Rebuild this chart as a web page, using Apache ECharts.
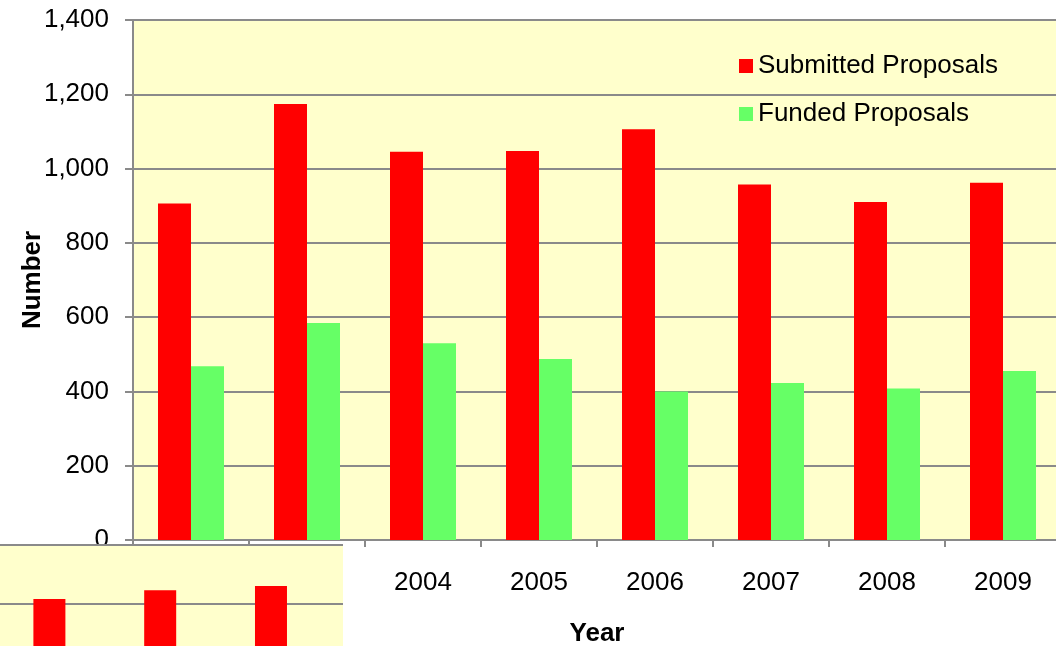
<!DOCTYPE html>
<html>
<head>
<meta charset="utf-8">
<script src="https://cdn.jsdelivr.net/npm/echarts@6/dist/echarts.min.js"></script>
<style>
	html, body { margin: 0; padding: 0; background: #fff; }
	#chart { width: 1056px; height: 646px; }
</style>
</head>
<body>
<div id="chart"></div>
<script>
var years = ['2002', '2003', '2004', '2005', '2006', '2007', '2008', '2009'];
var submitted = [906, 1174, 1045, 1047, 1106, 957, 910, 962];
var funded = [468, 584, 530, 487, 400, 423, 408, 455];
var yTicks = [0, 200, 400, 600, 800, 1000, 1200, 1400];

// stray piece of another chart pasted over the bottom left corner
var insetSlots = [0, 1, 2];
var insetValues = [213, 237, 248];

var font = 'Liberation Sans, Arial, sans-serif';
var gridGray = '#8a8a8a';

var chart = echarts.init(document.getElementById('chart'));

var option = {
	animation: false,
	backgroundColor: '#ffffff',
	textStyle: { fontFamily: font },
	legend: {
		orient: 'vertical',
		left: 739,
		top: 53,
		padding: 0,
		icon: 'rect',
		itemWidth: 14,
		itemHeight: 14,
		itemGap: 22,
		textStyle: { fontSize: 26, color: '#000', fontFamily: font },
		data: ['Submitted Proposals', 'Funded Proposals']
	},
	grid: [
		{
			left: 133, top: 20, width: 928, height: 520,
			outerBoundsMode: 'none',
			show: true, backgroundColor: '#FFFFCC', borderWidth: 0
		},
		{
			left: -6, top: 545, width: 349, height: 133,
			outerBoundsMode: 'none',
			show: true, backgroundColor: '#FFFFCC', borderWidth: 0, z: 10
		}
	],
	xAxis: [
		{
			type: 'category',
			gridIndex: 0,
			data: years,
			name: 'Year',
			nameLocation: 'middle',
			nameGap: 81,
			nameMoveOverlap: false,
			nameTextStyle: { fontSize: 26, fontWeight: 'bold', color: '#000', fontFamily: font },
			axisLine: { lineStyle: { color: gridGray, width: 2 } },
			axisTick: { show: true, length: 7, interval: 0, lineStyle: { color: gridGray, width: 2 } },
			axisLabel: { margin: 30, fontSize: 26, color: '#000', fontFamily: font, interval: 0 }
		},
		{
			type: 'value',
			gridIndex: 1,
			position: 'top',
			min: -0.5,
			max: 2.65,
			z: 10,
			axisLine: { show: true, lineStyle: { color: gridGray, width: 2 } },
			axisTick: { show: false },
			axisLabel: { show: false },
			splitLine: { show: false }
		}
	],
	yAxis: [
		{
			type: 'value',
			gridIndex: 0,
			min: yTicks[0],
			max: yTicks[yTicks.length - 1],
			interval: yTicks[1] - yTicks[0],
			name: 'Number',
			nameLocation: 'middle',
			nameGap: 87,
			nameMoveOverlap: false,
			nameTextStyle: { fontSize: 26, fontWeight: 'bold', color: '#000', fontFamily: font },
			axisLine: { show: true, lineStyle: { color: gridGray, width: 2 } },
			axisTick: { show: true, length: 8, lineStyle: { color: gridGray, width: 2 } },
			axisLabel: {
				margin: 24, fontSize: 26, color: '#000', fontFamily: font,
				formatter: function(v){ return v.toLocaleString('en-US'); }
			},
			splitLine: { show: true, lineStyle: { color: gridGray, width: 2 } }
		},
		{
			type: 'value',
			gridIndex: 1,
			min: 0,
			max: 359,
			interval: 200,
			z: 10,
			axisLine: { show: false },
			axisTick: { show: false },
			axisLabel: { show: false },
			splitLine: { show: true, lineStyle: { color: gridGray, width: 2 } }
		}
	],
	series: [
		{
			name: 'Submitted Proposals',
			type: 'bar',
			xAxisIndex: 0, yAxisIndex: 0,
			barWidth: 33,
			barGap: '0%',
			itemStyle: { color: '#FF0000' },
			data: submitted
		},
		{
			name: 'Funded Proposals',
			type: 'bar',
			xAxisIndex: 0, yAxisIndex: 0,
			barWidth: 33,
			barGap: '0%',
			itemStyle: { color: '#66FF66' },
			data: funded
		},
		{
			name: 'inset',
			type: 'bar',
			xAxisIndex: 1, yAxisIndex: 1,
			barWidth: 32,
			z: 11,
			itemStyle: { color: '#FF0000' },
			data: insetSlots.map(function(s, i){ return [s, insetValues[i]]; })
		}
	]
};

chart.setOption(option);
</script>
</body>
</html>
